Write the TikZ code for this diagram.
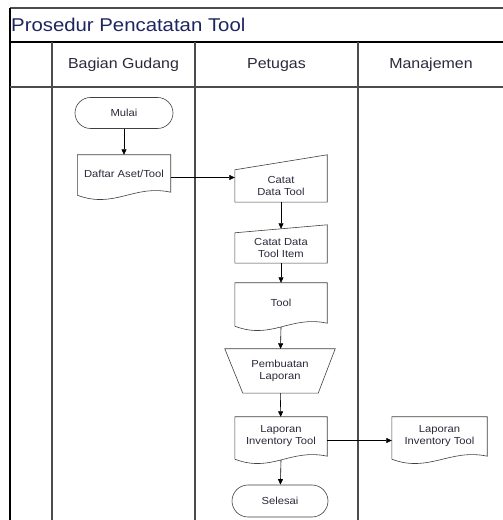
\documentclass[tikz,border=0pt]{standalone}
\usepackage{fontspec}
\setmainfont[FakeStretch=1.1]{Liberation Sans}
\usetikzlibrary{arrows.meta}
\definecolor{Ink}{HTML}{2A2A3C}
\definecolor{TitleBlue}{HTML}{1E2660}

\begin{document}
\begin{tikzpicture}[x=1pt, y=1pt, every node/.style={font=\fontsize{10.2}{12}\selectfont, text=Ink, inner sep=0pt}, flowbox/.style={minimum width=93pt, align=center}, terminal/.style={draw=black!75, line width=0.6pt, rounded corners=15.5pt, minimum width=98pt, minimum height=31pt}, outline/.style={draw=black!75, line width=0.6pt}, lanehead/.style={font=\fontsize{14.5}{16}\selectfont}, arrow/.style={-{Triangle[length=5.5pt,width=5pt]}, line width=0.6pt, color=black}, frame/.style={line width=1.3pt, color=black}, lane/.style={line width=1.2pt, color=black!70}]
\fill[white] (0,0) rectangle (503,520);
\useasboundingbox (0,0) rectangle (503,520);
% pool and lanes
\draw[lane] (10,512) -- (503,512);
\draw[frame] (10,0) -- (10,512);
\draw[frame] (10,478) -- (503,478);
\draw[lane] (10,433) -- (503,433);
\foreach \x in {52,195,358}{\draw[lane] (\x,478) -- (\x,0);}
\node[anchor=west, font=\fontsize{18.5}{20}\selectfont, text=TitleBlue] (title) at (11,495) {Prosedur Pencatatan Tool};
\node[lanehead] (gudang) at (123.5,455) {Bagian Gudang};
\node[lanehead] (petugas) at (276.5,455) {Petugas};
\node[lanehead] (manajemen) at (431,455) {Manajemen};
% flow
\node[terminal] (mulai) at (124,407) {Mulai};
\node[flowbox, minimum height=37pt] (daftar) at (124,346.5) {Daftar Aset/Tool};
\node[flowbox, minimum width=92pt, minimum height=32pt] (catat) at (281,334) {Catat\\Data Tool};
\node[flowbox, minimum width=92pt, minimum height=30pt] (item) at (281,272) {Catat Data\\Tool Item};
\node[flowbox, minimum width=92pt, minimum height=40pt] (tool) at (281,217) {Tool};
\node[flowbox, minimum width=110pt, minimum height=44pt] (buat) at (280,149) {Pembuatan\\Laporan};
\node[flowbox, minimum width=92pt, minimum height=39pt] (lapP) at (281,83.5) {Laporan\\Inventory Tool};
\node[flowbox, minimum width=95pt, minimum height=39pt] (lapM) at (439.5,83.5) {Laporan\\Inventory Tool};
\node[terminal, minimum width=96pt, minimum height=32pt, rounded corners=16pt] (selesai) at (280,19) {Selesai};
% shape outlines
\foreach \n in {daftar,tool,lapP,lapM}{\draw[outline] (\n.north west) -- (\n.north east) -- (\n.south east) .. controls +(-37,8) and +(37,-14) .. ([yshift=-3pt]\n.south west) -- cycle;}
\foreach \n/\r in {catat/15,item/8}{\draw[outline] (\n.south west) -- (\n.south east) -- ([yshift=\r pt]\n.north east) -- (\n.north west) -- cycle;}
\draw[outline] (buat.north west) -- (buat.north east) -- ([xshift=-17pt]buat.south east) -- ([xshift=18pt]buat.south west) -- cycle;
% connectors
\draw[arrow] (mulai) -- (daftar);
\draw[arrow] ([yshift=-4pt]daftar.east) -- ([yshift=-4pt]daftar.east -| catat.west);
\draw[arrow] (catat) -- ([yshift=4pt]item.north);
\draw[arrow] (item) -- (tool);
\draw[arrow] ([yshift=-4pt]tool.south) -- (buat);
\draw[arrow] (buat) -- (lapP);
\draw[arrow] ([yshift=-4pt]lapP.east) -- ([yshift=-4pt]lapM.west);
\draw[arrow] ([yshift=-4pt]lapP.south) -- (selesai);
\end{tikzpicture}
\end{document}
